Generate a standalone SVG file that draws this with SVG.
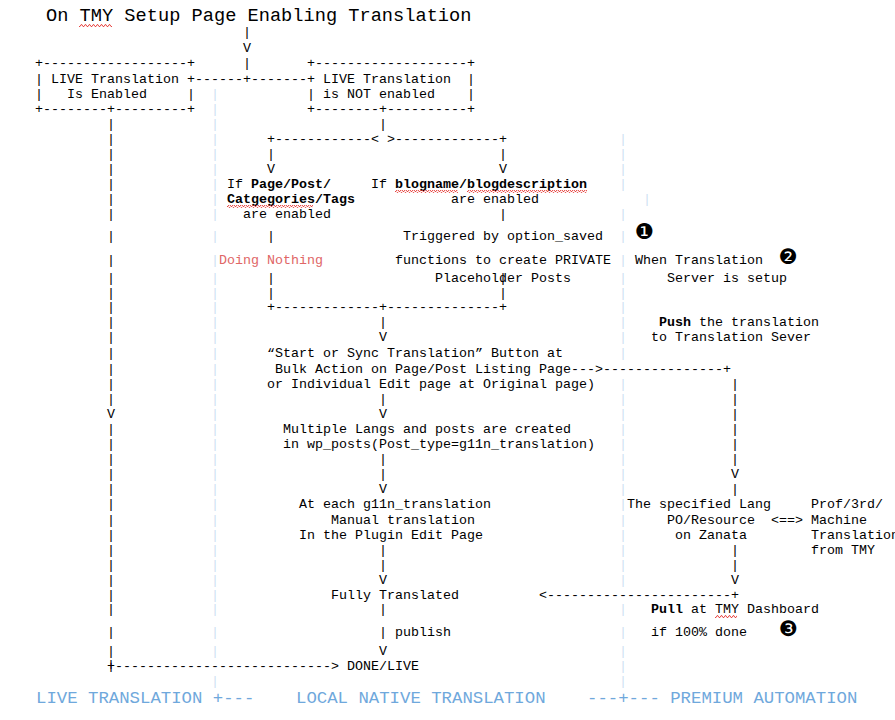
<svg xmlns="http://www.w3.org/2000/svg" width="895" height="720" viewBox="0 0 895 720">
<style>
text{font-family:"Liberation Mono",monospace;font-size:13.33px;fill:#000;white-space:pre}
.title{font-size:18.67px}
.band{font-size:17.33px;fill:#6fa8dc}
.lane{fill:#cfe2f3}
.red{fill:#e06666}
.num{font-family:"DejaVu Sans",sans-serif;font-size:21.33px;text-anchor:middle}
b,.b{font-weight:700}
</style>
<defs>
<pattern id="sq" width="4" height="3" patternUnits="userSpaceOnUse"><path d="M0 2.5L1 .7L2 .7L3 2.5L4 2.5" fill="none" stroke="#e53935" stroke-width=".9"/></pattern>
</defs>
<rect width="895" height="720" fill="#fff"/>
<g id="lanes">
<text class="lane" x="211 211 211 211 211 211 211 211 211 211 211 211 211 211 211 211 211 211 211 211 211 211 211 211 211 211 211 211 211 211 211 211 211 211 211 211 211" y="98 113 128 143 158 173 188 203 218 240 264 282 297 311 326 341 357 373 388 403 418 433 448 463 478 493 508 524 539 554 569 584 599 613 636 655 685">|||||||||||||||||||||||||||||||||||||</text>
<text class="lane" x="619 619 619 619 619 619 619 619 619 619 619 619 619 619 619 619 619 619 619 619 619 619 619 619 619 619 619 619 619 619 619 619" y="143 158 173 188 218 240 264 282 297 311 326 341 357 388 403 418 433 448 463 478 493 508 524 539 554 569 584 613 636 655 670 685">||||||||||||||||||||||||||||||||</text>
<text class="lane" x="643" y="203">|</text>
</g>
<g id="connectors">
<text x="243 243" y="36 52">|V</text>
<text x="243" y="67">|</text>
<text x="187" y="83">+------+-------+</text>
<text x="107 107 107 107 107 107 107 107 107 107 107 107 107 107 107 107 107 107" y="128 143 158 173 188 203 218 240 264 282 297 311 326 341 357 373 388 403">||||||||||||||||||</text>
<text x="107" y="418">V</text>
<text x="107 107 107 107 107 107 107 107 107 107 107 107 107 107 107 107" y="433 448 463 478 493 508 524 539 554 569 584 599 613 636 655 669">||||||||||||||||</text>
<text x="379" y="128">|</text>
<text x="267" y="143">+------------&lt; &gt;-------------+</text>
<text x="267 267" y="158 173">|V</text>
<text x="499 499" y="158 173">|V</text>
<text x="499" y="218">|</text>
<text x="267" y="240">|</text>
<text x="267 267" y="282 297">||</text>
<text x="499 499" y="282 297">||</text>
<text x="267" y="311">+-------------+--------------+</text>
<text x="379 379" y="326 341">|V</text>
<text x="571" y="373">---&gt;---------------+</text>
<text x="379 379" y="403 418">|V</text>
<text x="731 731 731 731 731 731 731 731" y="388 403 418 433 448 463 478 493">||||||V|</text>
<text x="379 379 379" y="463 478 493">||V</text>
<text x="379 379 379" y="554 569 584">||V</text>
<text x="731 731 731" y="554 569 584">||V</text>
<text x="539" y="599">&lt;-----------------------+</text>
<text x="379 379" y="613 636">||</text>
<text x="379" y="655">V</text>
<text x="107" y="670">+---------------------------&gt;</text>
<text x="771" y="524">&lt;==&gt;</text>
</g>
<g id="title"><text class="title" x="46" y="21">On TMY Setup Page Enabling Translation</text><rect x="79" y="24" width="33" height="3" fill="url(#sq)"/></g>
<g id="live-enabled">
<text x="35" y="67">+------------------+</text>
<text x="35" y="83">| LIVE Translation</text>
<text x="35" y="98">|   Is Enabled     |</text>
<text x="35" y="113">+--------+---------+</text>
</g>
<g id="live-not-enabled">
<text x="307" y="67">+-------------------+</text>
<text x="315" y="83"> LIVE Translation  |</text>
<text x="307" y="98">| is NOT enabled    |</text>
<text x="307" y="113">+--------+----------+</text>
</g>
<g id="if-page-post">
<text x="227" y="188">If <tspan class="b">Page/Post/</tspan></text>
<text class="b" x="227" y="203">Catgegories/Tags</text>
<rect x="227" y="205" width="86" height="3" fill="url(#sq)"/>
<text x="243" y="218">are enabled</text>
</g>
<g id="doing-nothing"><text class="red" x="219" y="264">Doing Nothing</text></g>
<g id="if-blogname">
<text x="371" y="188">If <tspan class="b">blogname/blogdescription</tspan></text>
<rect x="395" y="190" width="63" height="3" fill="url(#sq)"/>
<rect x="467" y="190" width="120" height="3" fill="url(#sq)"/>
<text x="451" y="203">are enabled</text>
</g>
<g id="triggered">
<text x="403" y="240">Triggered by option_saved</text>
<text x="395" y="264">functions to create PRIVATE</text>
<text x="435" y="282">Placeholder Posts</text>
</g>
<g id="marker-1"><text class="num" x="644" y="239">❶</text></g>
<g id="server-setup">
<text x="635" y="264">When Translation</text>
<text x="667" y="282">Server is setup</text>
</g>
<g id="marker-2"><text class="num" x="788" y="264">❷</text></g>
<g id="push">
<text x="659" y="326"><tspan class="b">Push</tspan> the translation</text>
<text x="651" y="341">to Translation Sever</text>
</g>
<g id="start-sync">
<text x="267" y="357">“Start or Sync Translation” Button at</text>
<text x="275" y="373">Bulk Action on Page/Post Listing Page</text>
<text x="267" y="388">or Individual Edit page at Original page)</text>
</g>
<g id="multiple-langs">
<text x="283" y="433">Multiple Langs and posts are created</text>
<text x="283" y="448">in wp_posts(Post_type=g11n_translation)</text>
</g>
<g id="manual">
<text x="299" y="508">At each g11n_translation</text>
<text x="331" y="524">Manual translation</text>
<text x="299" y="539">In the Plugin Edit Page</text>
</g>
<g id="zanata">
<text x="627" y="508">The specified Lang</text>
<text x="667" y="524">PO/Resource</text>
<text x="675" y="539">on Zanata</text>
</g>
<g id="machine">
<text x="811" y="508">Prof/3rd/</text>
<text x="811" y="524">Machine</text>
<text x="811" y="539">Translation</text>
<text x="811" y="554">from TMY</text>
</g>
<g id="fully"><text x="331" y="599">Fully Translated</text></g>
<g id="publish"><text x="395" y="636">publish</text></g>
<g id="pull">
<text x="651" y="613"><tspan class="b">Pull</tspan> at TMY Dashboard</text>
<rect x="715" y="615" width="22" height="3" fill="url(#sq)"/>
<text x="651" y="636">if 100% done</text>
</g>
<g id="marker-3"><text class="num" x="788" y="636">❸</text></g>
<g id="done"><text x="347" y="670">DONE/LIVE</text></g>
<g id="bands">
<text class="band" x="36" y="703">LIVE TRANSLATION +---</text>
<text class="band" x="296" y="703">LOCAL NATIVE TRANSLATION</text>
<text class="band" x="587" y="703">---+--- PREMIUM AUTOMATION</text>
</g>
</svg>
